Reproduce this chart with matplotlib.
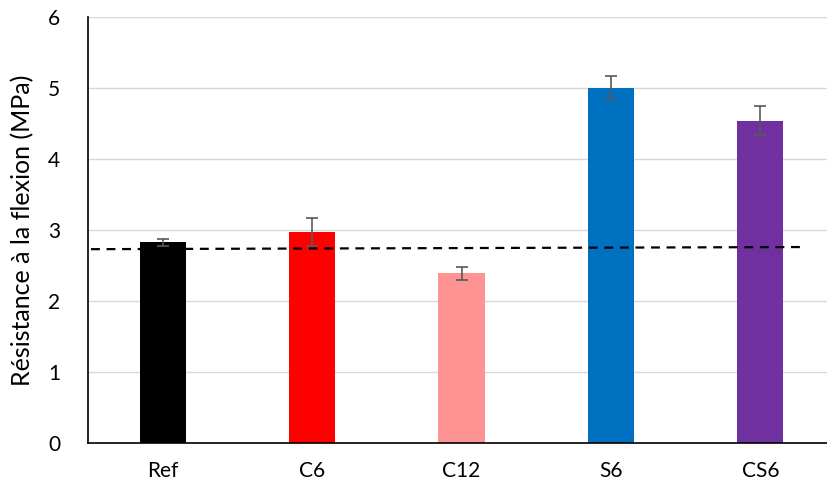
import numpy as np
import matplotlib.pyplot as plt

# données
categories = ["Ref", "C6", "C12", "S6", "CS6"]
resistance = [2.83, 2.97, 2.39, 5.00, 4.54]
erreurs = [0.05, 0.20, 0.09, 0.17, 0.20]
couleurs = ["#000000", "#FF0000", "#FF9393", "#0070C0", "#7030A0"]

# ligne pointillée (référence)
ligne_x = [-0.48, 4.28]
ligne_y = [2.73, 2.76]

plt.rcParams['font.family'] = ['Lato', 'DejaVu Sans']

fig = plt.figure(figsize=(8.27, 4.86), dpi=100)
ax = fig.add_axes([88 / 827, 43 / 486, 747 / 827, 426 / 486])

x = np.arange(len(categories))
ax.bar(x, resistance, width=0.31, color=couleurs, zorder=2,
       yerr=erreurs, error_kw=dict(ecolor="#595959", elinewidth=1.2, capsize=4, capthick=1.2))
ax.plot(ligne_x, ligne_y, color="black", linestyle=(0, (4, 3)), linewidth=1.6, zorder=3)

ax.set_xlim(-0.5, 4.5)
ax.set_ylim(0, 6)
ax.set_yticks(range(0, 7))
ax.set_xticks(x)
ax.set_xticklabels(categories, fontsize=15)
ax.tick_params(axis='y', labelsize=15, length=0, pad=20)
ax.tick_params(axis='x', length=0, pad=13)
ax.yaxis.grid(True, color="#D9D9D9", linewidth=1, zorder=0)
ax.set_axisbelow(True)
for s in ["top", "right"]:
    ax.spines[s].set_visible(False)
ax.spines["left"].set_linewidth(1.2)
ax.spines["bottom"].set_linewidth(1.2)
ax.set_ylabel("Résistance à la flexion (MPa)", fontsize=18, labelpad=10)

fig.savefig("out.png", dpi=100)
